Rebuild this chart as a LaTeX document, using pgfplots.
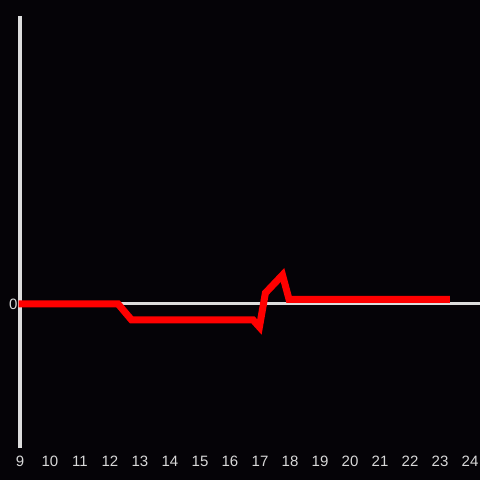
\documentclass[border=0pt]{standalone}
\usepackage{fontspec}
\setmainfont{Liberation Sans}
\usepackage{pgfplots}
\pgfplotsset{compat=1.18}
\definecolor{bg}{HTML}{050307}
\definecolor{axc}{HTML}{DDDDDD}
\definecolor{tk}{HTML}{D8D8D8}
\definecolor{ln}{HTML}{FF0000}
\begin{document}
\begin{tikzpicture}
\fill[bg] (-20bp,-32bp) rectangle (460bp,448bp);
\begin{axis}[
  scale only axis, width=460bp, height=432bp,
  at={(0,0)}, anchor=south west,
  xmin=9, xmax=24.3333, ymin=-144, ymax=288,
  axis lines=left,
  x axis line style={draw=none,-},
  y axis line style={draw=axc, line width=3bp, -},
  xtick={9,10,...,24}, ytick={0},
  major tick length=0pt,
  tick label style={font=\fontsize{15bp}{18bp}\selectfont, text=tk},
  xticklabel style={yshift=-5bp},
  yticklabel style={xshift=1bp},
  /pgf/number format/assume math mode=true,
  clip=false,
]
\draw[axc, line width=3bp] (axis cs:9,0) -- (axis cs:24.3333,0);
\addplot[ln, line width=7bp, line join=miter, line cap=butt] coordinates {
(8.95,0) (12.27,0) (12.72,-16) (16.77,-16) (16.98,-23) (17.18,11) (17.75,29) (17.97,4.5) (23.33,4.5)
};
\end{axis}
\pgfresetboundingbox
\path[use as bounding box] (-20bp,-32bp) rectangle (460bp,448bp);
\end{tikzpicture}
\end{document}
